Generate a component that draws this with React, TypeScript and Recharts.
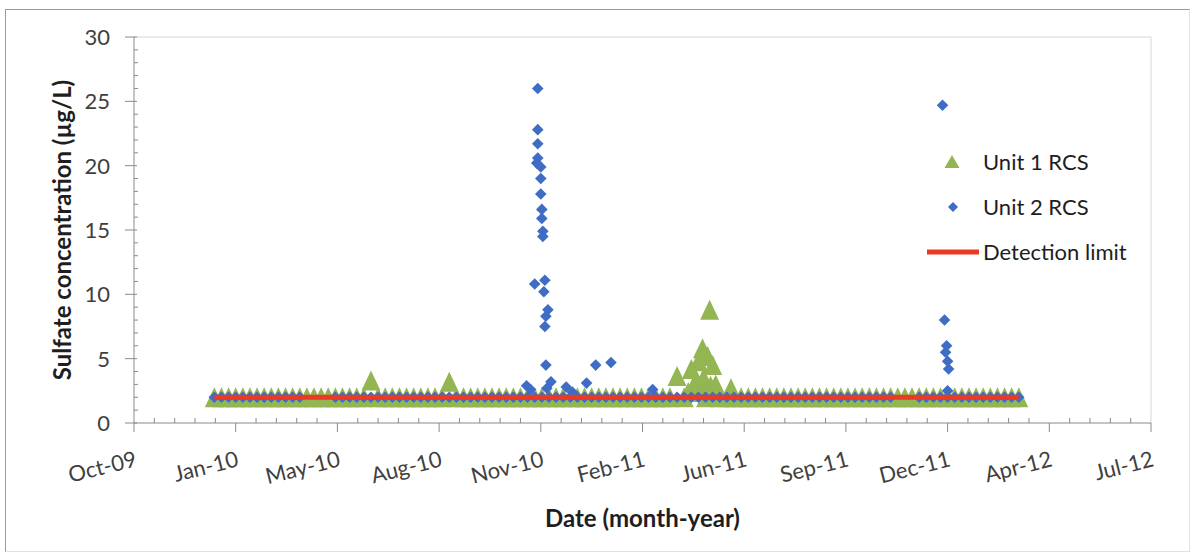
import React from 'react';
import { ComposedChart, Scatter, Line, XAxis, YAxis, ReferenceLine, Legend, Label } from 'recharts';

// Weekly sampling dates shared by both units and the detection limit
const sampleDates = [
  '2010-01-01', '2010-01-08', '2010-01-15', '2010-01-22', '2010-01-29',
  '2010-02-05', '2010-02-12', '2010-02-19', '2010-02-26',
  '2010-03-05', '2010-03-12', '2010-03-19', '2010-03-26',
  '2010-04-02', '2010-04-09', '2010-04-16', '2010-04-23', '2010-04-30',
  '2010-05-07', '2010-05-14', '2010-05-21', '2010-05-28',
  '2010-06-04', '2010-06-11', '2010-06-18', '2010-06-25',
  '2010-07-02', '2010-07-09', '2010-07-16', '2010-07-23', '2010-07-30',
  '2010-08-06', '2010-08-13', '2010-08-20', '2010-08-27',
  '2010-09-03', '2010-09-10', '2010-09-17', '2010-09-24',
  '2010-10-01', '2010-10-08', '2010-10-15', '2010-10-22', '2010-10-29',
  '2010-11-05', '2010-11-12', '2010-11-19', '2010-11-26',
  '2010-12-03', '2010-12-10', '2010-12-17', '2010-12-24', '2010-12-31',
  '2011-01-07', '2011-01-14', '2011-01-21', '2011-01-28',
  '2011-02-04', '2011-02-11', '2011-02-18', '2011-02-25',
  '2011-03-04', '2011-03-11', '2011-03-18', '2011-03-25',
  '2011-04-01', '2011-04-08', '2011-04-15', '2011-04-22', '2011-04-29',
  '2011-05-06', '2011-05-13', '2011-05-20', '2011-05-27',
  '2011-06-03', '2011-06-10', '2011-06-17', '2011-06-24',
  '2011-07-01', '2011-07-08', '2011-07-15', '2011-07-22', '2011-07-29',
  '2011-08-05', '2011-08-12', '2011-08-19', '2011-08-26',
  '2011-09-02', '2011-09-09', '2011-09-16', '2011-09-23', '2011-09-30',
  '2011-10-07', '2011-10-14', '2011-10-21', '2011-10-28',
  '2011-11-04', '2011-11-11', '2011-11-18', '2011-11-25',
  '2011-12-02', '2011-12-09', '2011-12-16', '2011-12-23', '2011-12-30',
  '2012-01-06', '2012-01-13', '2012-01-20', '2012-01-27',
  '2012-02-03', '2012-02-10', '2012-02-17', '2012-02-24',
  '2012-03-02',
];

// Unit 1 RCS weekly results (µg/L); <2 reported at the detection limit
const unit1Values = [
  2, 2, 2, 2, 2,
  2, 2, 2, 2,
  2, 2, 2, 2,
  2, 2, 2, 2, 2,
  2, 2, 2, 2,
  3.3, 2, 2, 2,
  2, 2, 2, 2, 2,
  2, 2, 3.2, 2,
  2, 2, 2, 2,
  2, 2, 2, 2, 2,
  2, 2, 2, 2,
  2, 2, 2, 2, 2,
  2, 2, 2, 2,
  2, 2, 2, 2,
  2, 2, 2, 2,
  3.65, 2, 4.2, 4.8, 2,
  4.5, 2, 2, 2,
  2, 2, 2, 2,
  2, 2, 2, 2, 2,
  2, 2, 2, 2,
  2, 2, 2, 2, 2,
  2, 2, 2, 2,
  2, 2, 2, 2,
  2, 2, 2, 2, 2,
  2, 2, 2, 2,
  2, 2, 2, 2,
  2,
];

// Unit 2 RCS weekly results (µg/L); null where no sample was taken
const unit2Values = [
  2, 2, 2, 2, 2,
  2, 2, 2, 2,
  2, 2, 2, 2,
  null, null, null, null, 2,
  2, 2, 2, 2,
  2, 2, 2, 2,
  2, 2, 2, 2, 2,
  2, 2, 2, 2,
  2, 2, 2, 2,
  2, 2, 2, 2, 2,
  2, 2, 2, 2,
  2, 2, 2, 2, 2,
  2, 2, 2, 2,
  2, 2, 2, 2,
  2, 2, 2, 2,
  2, 2, 2, 2, 2,
  2, 2, 2, 2,
  2, 2, 2, 2,
  2, 2, 2, 2, 2,
  2, 2, 2, 2,
  2, 2, 2, 2, 2,
  2, 2, 2, 2,
  null, null, null, 2,
  2, 2, 2, 2, 2,
  2, 2, 2, 2,
  2, 2, 2, 2,
  2,
];

// Additional Unit 1 samples taken during the spring 2011 excursion
const unit1ExtraDates = [
  '2011-04-12', '2011-04-17', '2011-04-19', '2011-04-24', '2011-04-26', '2011-04-27',
  '2011-05-01', '2011-05-03', '2011-05-04', '2011-05-09', '2011-05-24',
];
const unit1ExtraValues = [2.4, 2.6, 3.2, 2.8, 5.8, 3.5, 5.2, 8.8, 2.9, 3.0, 2.7];

// Additional Unit 2 samples taken during the Nov 2010 and Dec 2011 excursions
const unit2ExtraDates = [
  '2010-11-04', '2010-11-08', '2010-11-12', '2010-11-14',
  '2010-11-15', '2010-11-15', '2010-11-15', '2010-11-15',
  '2010-11-18', '2010-11-18', '2010-11-18',
  '2010-11-19', '2010-11-19', '2010-11-20', '2010-11-20',
  '2010-11-21', '2010-11-22', '2010-11-22', '2010-11-23', '2010-11-23',
  '2010-11-24', '2010-11-25', '2010-11-28',
  '2010-12-13', '2010-12-19', '2011-01-02', '2011-01-11', '2011-01-26', '2011-03-08',
  '2011-12-18', '2011-12-20', '2011-12-21', '2011-12-22', '2011-12-23', '2011-12-23', '2011-12-24',
];
const unit2ExtraValues = [
  2.9, 2.6, 10.8, 20.2,
  26.0, 22.8, 21.7, 20.6,
  19.9, 19.0, 17.8,
  16.6, 15.9, 14.9, 14.5,
  10.2, 11.1, 7.5, 8.3, 4.5,
  2.7, 8.8, 3.2,
  2.8, 2.4, 3.1, 4.5, 4.7, 2.6,
  24.7, 8.0, 5.5, 6.0, 4.8, 2.5, 4.2,
];

const detectionLimit = 2;
const seriesNames = ['Unit 1 RCS', 'Unit 2 RCS', 'Detection limit'];

// Date axis (Excel serial days), labelled every 100 days
const xMajorTicks = [40100, 40200, 40300, 40400, 40500, 40600, 40700, 40800, 40900, 41000, 41100];
const yMajorTicks = [0, 5, 10, 15, 20, 25, 30];
const xMinorStep = 20;
const yMinorStep = 1;

const COLORS = {
  unit1: '#93B653',
  unit2: '#3F6DC5',
  limit: '#EA3A26',
  axis: '#8A8A8A',
  frame: '#D6D6D6',
  tickText: '#3F3F3F',
  title: '#1E1E1E',
};
const FONT = 'Lato, "Open Sans", sans-serif';

const EXCEL_EPOCH = Date.UTC(1899, 11, 30);
const DAY = 86400000;
const toSerial = (iso: string) => (Date.parse(iso) - EXCEL_EPOCH) / DAY;
const MONTHS = ['Jan', 'Feb', 'Mar', 'Apr', 'May', 'Jun', 'Jul', 'Aug', 'Sep', 'Oct', 'Nov', 'Dec'];
const formatSerial = (s: number) => {
  const d = new Date(EXCEL_EPOCH + s * DAY);
  return `${MONTHS[d.getUTCMonth()]}-${String(d.getUTCFullYear() % 100).padStart(2, '0')}`;
};

const pairUp = (dates: string[], values: (number | null)[]) =>
  dates
    .map((d, i) => ({ x: toSerial(d), y: values[i] }))
    .filter((p) => p.y !== null && p.y !== undefined);

const unit1Points = [...pairUp(sampleDates, unit1Values), ...pairUp(unit1ExtraDates, unit1ExtraValues)];
const unit2Points = [...pairUp(sampleDates, unit2Values), ...pairUp(unit2ExtraDates, unit2ExtraValues)];
const limitPoints = [
  { x: toSerial(sampleDates[0]), y: detectionLimit },
  { x: toSerial(sampleDates[sampleDates.length - 1]), y: detectionLimit },
];

const buildTicks = (from: number, to: number, step: number) => {
  const out: number[] = [];
  for (let v = from; v <= to + 1e-9; v += step) out.push(v);
  return out;
};
const xTicks = buildTicks(xMajorTicks[0], xMajorTicks[xMajorTicks.length - 1], xMinorStep);
const yTicks = buildTicks(yMajorTicks[0], yMajorTicks[yMajorTicks.length - 1], yMinorStep);

const TriangleMarker = (props: any) => {
  const { cx, cy } = props;
  if (cx == null || cy == null) return <g />;
  return <polygon points={`${cx},${cy - 10} ${cx + 9.5},${cy + 10} ${cx - 9.5},${cy + 10}`} fill={COLORS.unit1} />;
};

const DiamondMarker = (props: any) => {
  const { cx, cy } = props;
  if (cx == null || cy == null) return <g />;
  return <polygon points={`${cx},${cy - 5.8} ${cx + 5.8},${cy} ${cx},${cy + 5.8} ${cx - 5.8},${cy}`} fill={COLORS.unit2} />;
};

const XTick = (props: any) => {
  const { x, y, payload } = props;
  const major = xMajorTicks.includes(payload.value);
  if (!major) {
    return <line x1={x} y1={y - 5} x2={x} y2={y} stroke={COLORS.axis} strokeWidth={1} />;
  }
  const tx = x + 4;
  const ty = y + 43;
  return (
    <g>
      <line x1={x} y1={y} x2={x} y2={y + 9} stroke={COLORS.axis} strokeWidth={1} />
      <text
        x={tx}
        y={ty}
        textAnchor="end"
        transform={`rotate(-14, ${tx}, ${ty})`}
        fontFamily={FONT}
        fontSize={22}
        fill={COLORS.tickText}
      >
        {formatSerial(payload.value)}
      </text>
    </g>
  );
};

const YTick = (props: any) => {
  const { x, y, payload } = props;
  const major = yMajorTicks.includes(payload.value);
  if (!major) {
    return <line x1={x} y1={y} x2={x + 4} y2={y} stroke={COLORS.axis} strokeWidth={1} />;
  }
  return (
    <g>
      <line x1={x - 9} y1={y} x2={x + 3} y2={y} stroke={COLORS.axis} strokeWidth={1} />
      <text x={x - 24} y={y} dy="0.36em" textAnchor="end" fontFamily={FONT} fontSize={22} fill={COLORS.tickText}>
        {payload.value}
      </text>
    </g>
  );
};

const ChartLegend = () => (
  <svg width={240} height={135} style={{ display: 'block', overflow: 'visible' }}>
    <polygon points="37,15 44.5,28 29.5,28" fill={COLORS.unit1} />
    <text x={68} y={22} dy="0.36em" fontFamily={FONT} fontSize={22} fill={COLORS.title}>
      {seriesNames[0]}
    </text>
    <polygon points="38,62 43,67 38,72 33,67" fill={COLORS.unit2} />
    <text x={68} y={67} dy="0.36em" fontFamily={FONT} fontSize={22} fill={COLORS.title}>
      {seriesNames[1]}
    </text>
    <line x1={12} y1={112} x2={64} y2={112} stroke={COLORS.limit} strokeWidth={5} />
    <text x={68} y={112} dy="0.36em" fontFamily={FONT} fontSize={22} fill={COLORS.title}>
      {seriesNames[2]}
    </text>
  </svg>
);

export default function App() {
  return (
    <div style={{ position: 'absolute', left: 0, top: 0, width: 1192, height: 555, background: '#ffffff' }}>
      <div
        style={{
          position: 'absolute',
          left: 5,
          top: 9,
          width: 1183,
          height: 541,
          borderLeft: '1px solid #9A9A9A',
          borderTop: '1px solid #9A9A9A',
          borderRight: '1px solid #E2E2E2',
          borderBottom: '1px solid #E2E2E2',
        }}
      />
      <div style={{ position: 'absolute', left: 0, top: 0 }}>
        <ComposedChart width={1192} height={555} margin={{ top: 37, right: 41, left: 0, bottom: 0 }}>
          <XAxis
            dataKey="x"
            type="number"
            domain={[xMajorTicks[0], xMajorTicks[xMajorTicks.length - 1]]}
            ticks={xTicks}
            interval={0}
            tick={<XTick />}
            tickLine={false}
            tickSize={0}
            tickMargin={0}
            axisLine={{ stroke: COLORS.axis }}
            height={132}
            allowDataOverflow
          >
            <Label
              content={(p: any) => {
                const vb = p.viewBox || { x: 134, y: 423, width: 1017, height: 132 };
                return (
                  <text
                    x={vb.x + vb.width / 2}
                    y={vb.y + 95}
                    dy="0.36em"
                    textAnchor="middle"
                    fontFamily={FONT}
                    fontWeight={700}
                    fontSize={24}
                    fill={COLORS.title}
                  >
                    Date (month-year)
                  </text>
                );
              }}
            />
          </XAxis>
          <YAxis
            dataKey="y"
            type="number"
            domain={[yMajorTicks[0], yMajorTicks[yMajorTicks.length - 1]]}
            ticks={yTicks}
            interval={0}
            tick={<YTick />}
            tickLine={false}
            tickSize={0}
            tickMargin={0}
            axisLine={{ stroke: COLORS.axis }}
            width={134}
            allowDataOverflow
          >
            <Label
              content={(p: any) => {
                const vb = p.viewBox || { x: 0, y: 37, width: 134, height: 386 };
                const cx = vb.x + 62;
                const cy = vb.y + vb.height / 2;
                return (
                  <text
                    x={cx}
                    y={cy}
                    dy="0.36em"
                    textAnchor="middle"
                    transform={`rotate(-90, ${cx}, ${cy})`}
                    fontFamily={FONT}
                    fontWeight={700}
                    fontSize={24}
                    fill={COLORS.title}
                  >
                    Sulfate concentration (µg/L)
                  </text>
                );
              }}
            />
          </YAxis>
          <ReferenceLine y={yMajorTicks[yMajorTicks.length - 1]} stroke={COLORS.frame} />
          <ReferenceLine x={xMajorTicks[xMajorTicks.length - 1]} stroke={COLORS.frame} />
          <Scatter name={seriesNames[0]} data={unit1Points} shape={TriangleMarker} isAnimationActive={false} />
          <Scatter name={seriesNames[1]} data={unit2Points} shape={DiamondMarker} isAnimationActive={false} />
          <Line
            name={seriesNames[2]}
            data={limitPoints}
            dataKey="y"
            stroke={COLORS.limit}
            strokeWidth={5}
            dot={false}
            activeDot={false}
            isAnimationActive={false}
            zIndex={700}
          />
          <Legend
            content={<ChartLegend />}
            layout="vertical"
            align="center"
            verticalAlign="middle"
            wrapperStyle={{ left: 915, top: 140, width: 240, height: 135 }}
          />
        </ComposedChart>
      </div>
    </div>
  );
}
